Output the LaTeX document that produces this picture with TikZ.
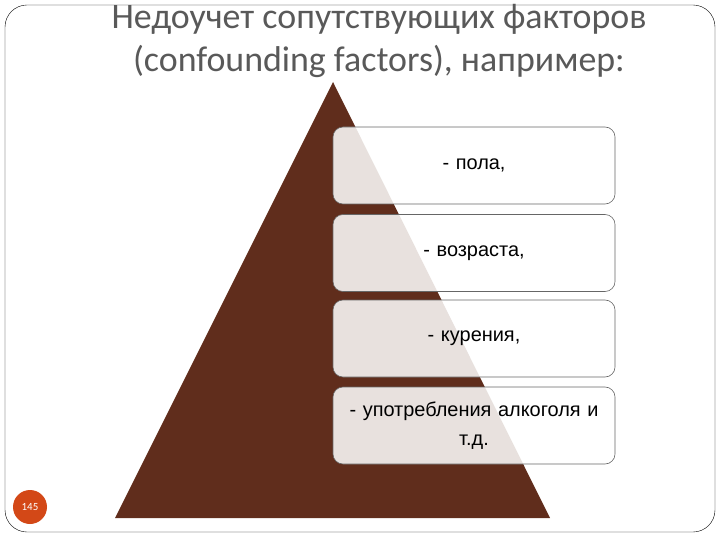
\documentclass[tikz,border=0pt]{standalone}
\usepackage{fontspec}
\setmainfont{Liberation Sans}
\newfontfamily\titlefont{Carlito}
\usetikzlibrary{calc}
\definecolor{pyrbrown}{RGB}{96,45,28}
\definecolor{titlegray}{RGB}{89,89,89}
\definecolor{numorange}{RGB}{211,72,23}

\begin{document}
\begin{tikzpicture}[x=1bp,y=-1bp,
	titleline/.style={anchor=base,inner sep=0pt,text=titlegray,font=\titlefont\fontsize{36}{42}\selectfont},
	layerbox/.style={draw=black!60,semithick,fill=white,fill opacity=0.86,draw opacity=1,text opacity=1,rounded corners=10bp,
		minimum width=282bp,minimum height=77bp,text width=270bp,align=center,font=\fontsize{20}{29}\selectfont}]
\useasboundingbox (0,0) rectangle (720,540);
\draw [rounded corners=22bp] (5,5) rectangle (715,532);

% title
\node [titleline] (title1) at (379,29) {Недоучет сопутствующих факторов};
\node [titleline] (title2) at (379,72) {(confounding factors), например:};

% pyramid
\coordinate (Apex) at (333,82);
\coordinate (BaseL) at (115,518);
\coordinate (BaseR) at (550,518);
\fill [pyrbrown] (Apex) -- (BaseR) -- (BaseL) -- cycle;

\foreach \y/\txt [count=\i] in {165.5/{- пола,}, 253/{- возраста,}, 338.5/{- курения,}, 425.5/{- употребления алкоголя и\\т.д.}}
	{
	\node [layerbox] (layer\i) at (474,\y) {\txt};
	}

% slide number
\node [circle,fill=numorange,minimum size=34bp,inner sep=0pt,text=white,font=\titlefont\fontsize{11}{13}\selectfont] (slidenum) at (30,507) {145};
\end{tikzpicture}
\end{document}
